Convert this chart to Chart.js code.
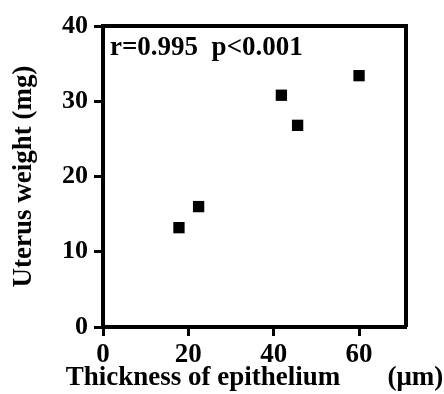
<!DOCTYPE html>
<html>
<head>
<meta charset="utf-8">
<script src="https://cdn.jsdelivr.net/npm/chart.js@4"></script>
<style>
  html, body { margin: 0; padding: 0; background: #fff; }
  #wrap { width: 444px; height: 394px; }
</style>
</head>
<body>
<div id="wrap"><canvas id="chart"></canvas></div>
<script>
// data
const thickness = [17.8, 22.4, 41.8, 45.6, 60.0];
const uterusWeight = [13.2, 16.0, 30.8, 26.8, 33.4];
const xTicks = [0, 20, 40, 60];
const yTicks = [0, 10, 20, 30, 40];
const statsLabel = 'r=0.995  p<0.001';
const xTitle = 'Thickness of epithelium       (\u03bcm)';
const yTitle = 'Uterus weight (mg)';

const FONT = "'Liberation Serif', 'Times New Roman', serif";

// top/right frame, the r/p note and the x title
// (drawn here because the scale title gets squeezed to the axis width)
const framePlugin = {
    id: 'frame',
    afterDraw(chart) {
        const { ctx, chartArea: a } = chart;
        ctx.save();
        ctx.strokeStyle = '#000';
        ctx.lineWidth = 4;
        ctx.beginPath();
        ctx.moveTo(a.left, a.top);
        ctx.lineTo(a.right, a.top);
        ctx.lineTo(a.right, a.bottom);
        ctx.stroke();

        ctx.fillStyle = '#000';
        ctx.font = `bold 27px ${FONT}`;
        ctx.textBaseline = 'alphabetic';
        ctx.textAlign = 'left';
        ctx.fillText(statsLabel, a.left + 7, a.top + 29);

        ctx.textAlign = 'center';
        ctx.fillText(xTitle, (a.left + a.right) / 2, a.bottom + 58);
        ctx.restore();
    }
};

const points = thickness.map((x, i) => ({ x: x, y: uterusWeight[i] }));

const tickGrid = {
    display: true,
    drawOnChartArea: false,
    drawTicks: true,
    tickLength: 9,
    tickWidth: 3,
    tickColor: '#000'
};

new Chart(document.getElementById('chart'), {
    type: 'scatter',
    data: {
        datasets: [{
            data: points,
            pointStyle: 'rect',
            pointRadius: 8,
            backgroundColor: '#000',
            borderWidth: 0
        }]
    },
    options: {
        responsive: true,
        maintainAspectRatio: false,
        animation: false,
        layout: { padding: { top: 26, right: 38, left: 0, bottom: 0 } },
        plugins: {
            legend: { display: false },
            tooltip: { enabled: false }
        },
        scales: {
            x: {
                type: 'linear',
                min: 0,
                max: 71,
                afterBuildTicks: s => { s.ticks = xTicks.map(v => ({ value: v })); },
                afterFit: s => { s.height = 67; },
                ticks: {
                    color: '#000',
                    padding: 3,
                    font: { family: FONT, size: 27, weight: 'bold' }
                },
                grid: tickGrid,
                border: { display: true, color: '#000', width: 4 },
                title: { display: false }
            },
            y: {
                type: 'linear',
                min: 0,
                max: 40,
                afterBuildTicks: s => { s.ticks = yTicks.map(v => ({ value: v })); },
                afterFit: s => { s.width = 103; },
                ticks: {
                    color: '#000',
                    padding: 6,
                    font: { family: FONT, size: 26, weight: 'bold' }
                },
                grid: tickGrid,
                border: { display: true, color: '#000', width: 4 },
                title: {
                    display: true,
                    text: yTitle,
                    color: '#000',
                    padding: { top: 8, bottom: 0 },
                    font: { family: FONT, size: 27, weight: 'bold' }
                }
            }
        }
    },
    plugins: [framePlugin]
});
</script>
</body>
</html>
